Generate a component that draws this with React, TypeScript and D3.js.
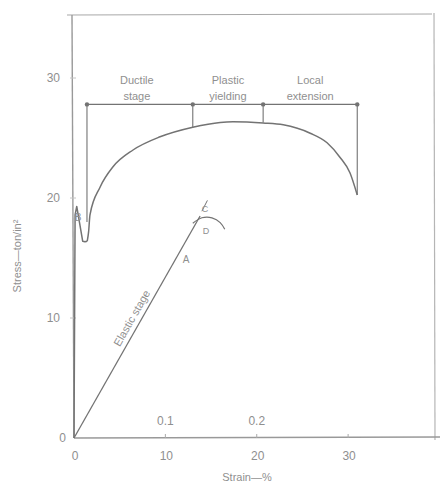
import React from 'react';
import * as d3 from 'd3';

// strain % (plastic scale) vs stress ton/in²
const plasticStrain = [0, 0.12, 0.3, 0.95, 1.2, 1.45, 1.6, 1.75, 2.85, 4.27, 6.46, 9.42, 13.0, 16.0, 17.4, 20.7, 22.9, 25.85, 27.7, 29.1, 30.2, 31.0];
const plasticStress = [0, 18.6, 19.3, 16.4, 16.35, 16.4, 17.2, 18.6, 20.9, 22.6, 24.0, 25.1, 25.9, 26.3, 26.35, 26.25, 26.1, 25.4, 24.6, 23.4, 22.1, 20.25];
// yield drop is drawn straight, the hardening curve smooth
const yieldEnd = 5;

// elastic part on the magnified strain scale (%)
const elasticStrain = [0, 0.138];
const elasticStress = [0, 18.5];
const arcStrain = [0.13, 0.14, 0.151, 0.16, 0.165];
const arcStress = [17.9, 18.35, 18.35, 17.95, 17.4];

const stageBounds = [1.42, 13.0, 20.7, 31.0];
const stageDrop = [18.0, 25.9, 26.3, 20.25];
const stageLevel = 27.8;
const stageLabels = [["Ductile", "stage"], ["Plastic", "yielding"], ["Local", "extension"]];

const xTicks = [0, 10, 20, 30];
const yTicks = [0, 10, 20, 30];
const elasticTicks = [0.1, 0.2];

const W = 440, H = 488;
const ink = '#737373';
const textInk = '#8f8f8f';
const font = '"Liberation Sans", Arial, sans-serif';

export default function App() {
  const x = d3.scaleLinear().domain([0, 39.4]).range([74, 434]);
  const xe = d3.scaleLinear().domain([0, 0.394]).range([74, 434]);
  const y = d3.scaleLinear().domain([0, 35.25]).range([438, 15]);

  const plastic = plasticStrain.map((s, i) => [s, plasticStress[i]] as [number, number]);
  const yieldPath = d3.line<[number, number]>()
    .x(d => x(d[0])).y(d => y(d[1]))(plastic.slice(0, yieldEnd + 1)) || '';
  const mainPath = d3.line<[number, number]>()
    .x(d => x(d[0])).y(d => y(d[1]))
    .curve(d3.curveMonotoneX)(plastic.slice(yieldEnd)) || '';

  const elastic = elasticStrain.map((s, i) => [s, elasticStress[i]] as [number, number]);
  const elasticPath = d3.line<[number, number]>().x(d => xe(d[0])).y(d => y(d[1]))(elastic) || '';
  const arc = arcStrain.map((s, i) => [s, arcStress[i]] as [number, number]);
  const arcPath = d3.line<[number, number]>().x(d => xe(d[0])).y(d => y(d[1]))
    .curve(d3.curveNatural)(arc) || '';

  // elastic label placed along the line
  const ex0 = xe(0), ey0 = y(0), ex1 = xe(elasticStrain[1]), ey1 = y(elasticStress[1]);
  const ang = Math.atan2(ey1 - ey0, ex1 - ex0) * 180 / Math.PI;
  const tMid = 0.52;
  const nx = Math.sin(ang * Math.PI / 180), ny = -Math.cos(ang * Math.PI / 180);
  const lx = ex0 + (ex1 - ex0) * tMid + nx * 9;
  const ly = ey0 + (ey1 - ey0) * tMid + ny * 9;

  return (
    <svg width={W} height={H} style={{ position: 'absolute', left: 0, top: 0, background: '#fff' }}
      fontFamily={font}>
      {/* frame */}
      <line x1={67} x2={432} y1={15} y2={14} stroke="#a8a8a8" strokeWidth={1.2} />
      <line x1={434} x2={435} y1={13} y2={440} stroke="#b5b5b5" strokeWidth={1.2} />
      <line x1={72} x2={74} y1={15} y2={438} stroke="#999" strokeWidth={1.4} />
      <line x1={74} x2={440} y1={438} y2={437} stroke="#999" strokeWidth={1.6} />

      {/* y ticks */}
      {yTicks.map(t => (
        <text key={'y' + t} x={t === 0 ? 66 : 60} y={y(t)} dy="0.35em" textAnchor="end"
          fontSize={12} fill={textInk}>{t}</text>
      ))}
      {yTicks.filter(t => t > 0).map(t => (
        <line key={'yt' + t} x1={70} x2={76} y1={y(t)} y2={y(t)} stroke="#c4c4c4" />
      ))}

      {/* x ticks */}
      {xTicks.map(t => (
        <text key={'x' + t} x={x(t) + 1} y={456} dy="0.35em" textAnchor="middle"
          fontSize={12} fill={textInk}>{t}</text>
      ))}
      {xTicks.filter(t => t > 0).map(t => (
        <line key={'xt' + t} x1={x(t)} x2={x(t)} y1={434} y2={438} stroke="#aaa" />
      ))}
      {elasticTicks.map(t => (
        <text key={'e' + t} x={xe(t)} y={421} dy="0.35em" textAnchor="middle"
          fontSize={12} fill={textInk}>{t}</text>
      ))}

      {/* axis titles */}
      <text x={247} y={481} textAnchor="middle" fontSize={11} fill={textInk}>Strain—%</text>
      <text transform="translate(21,256) rotate(-90)" textAnchor="middle" fontSize={11}
        fill={textInk}>Stress—ton/in²</text>

      {/* stage bracket */}
      <line x1={x(stageBounds[0])} x2={x(stageBounds[3])} y1={y(stageLevel)} y2={y(stageLevel)}
        stroke={ink} strokeWidth={1.2} />
      {stageBounds.map((b, i) => (
        <g key={'sb' + i}>
          <line x1={x(b)} x2={x(b)} y1={y(stageLevel)} y2={y(stageDrop[i])} stroke={ink} strokeWidth={1.1} />
          <circle cx={x(b)} cy={y(stageLevel)} r={2.2} fill={ink} />
        </g>
      ))}
      {stageLabels.map((lab, i) => {
        const cx = x((stageBounds[i] + stageBounds[i + 1]) / 2) + (i === 0 ? -3 : 0);
        return (
          <text key={'sl' + i} x={cx} textAnchor="middle" fontSize={11} fill={textInk}>
            <tspan x={cx} y={84}>{lab[0]}</tspan>
            <tspan x={cx} y={100}>{lab[1]}</tspan>
          </text>
        );
      })}

      {/* curves */}
      <path d={yieldPath} fill="none" stroke={ink} strokeWidth={1.5} strokeLinejoin="round" />
      <path d={mainPath} fill="none" stroke={ink} strokeWidth={1.5} />
      <path d={elasticPath} fill="none" stroke={ink} strokeWidth={1.3} />
      <path d={arcPath} fill="none" stroke={ink} strokeWidth={1.2} />
      <line x1={xe(0.14)} x2={xe(0.146)} y1={y(18.9)} y2={y(19.8)} stroke={ink} strokeWidth={1} />

      {/* point labels */}
      <text x={78} y={y(18.4)} dy="0.35em" textAnchor="middle" fontSize={10} fill={textInk}>B</text>
      <text x={186} y={259} dy="0.35em" textAnchor="middle" fontSize={10} fill={textInk}>A</text>
      <text x={205} y={209} dy="0.35em" textAnchor="middle" fontSize={9} fill={textInk}>C</text>
      <text x={206} y={231} dy="0.35em" textAnchor="middle" fontSize={9} fill={textInk}>D</text>
      <text transform={`translate(${lx},${ly}) rotate(${ang})`} textAnchor="middle" dy="0.35em"
        fontSize={11} fill={textInk}>Elastic stage</text>
    </svg>
  );
}
